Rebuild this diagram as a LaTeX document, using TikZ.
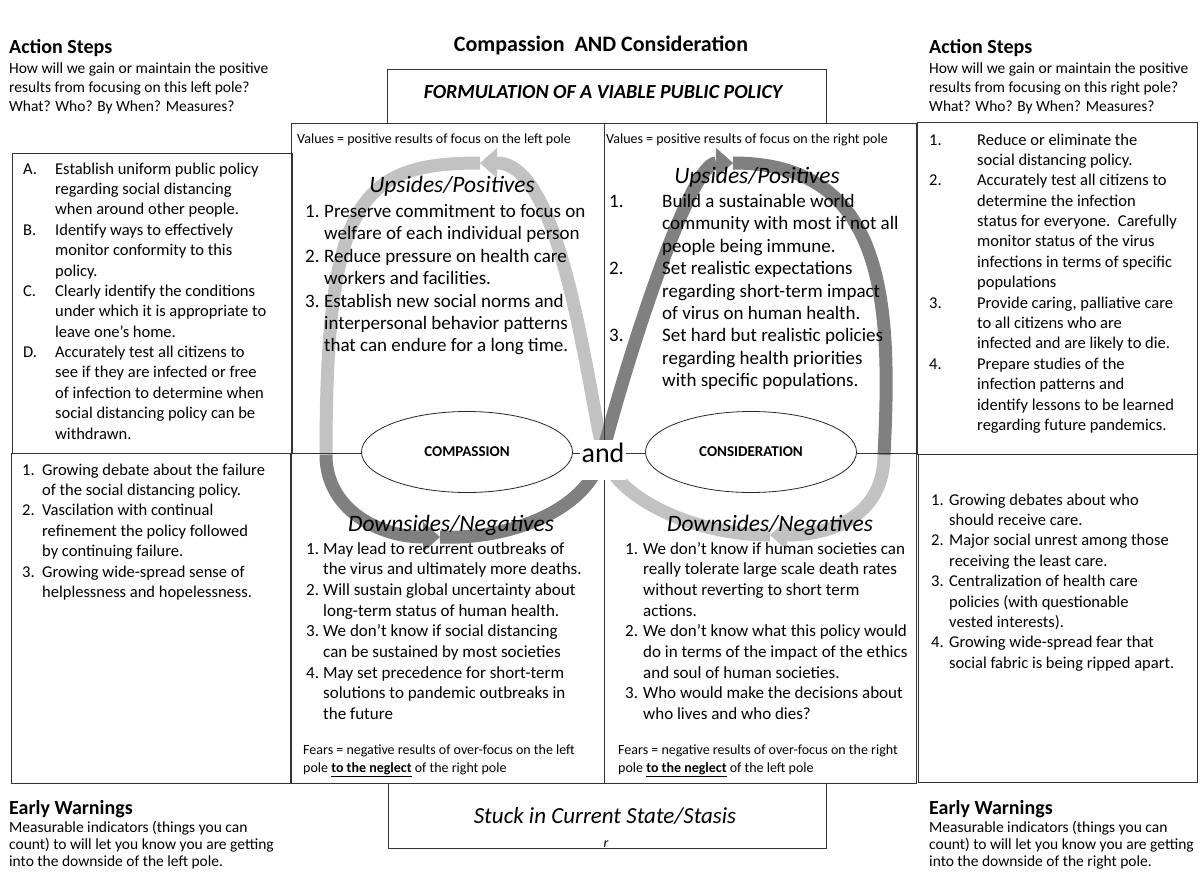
\documentclass[tikz,border=0pt]{standalone}
\usepackage{fontspec}
\setmainfont{Carlito}
\usetikzlibrary{shapes.geometric,arrows.meta}
\newcommand{\titlefont}{\fontsize{22}{26}\selectfont\bfseries}
\newcommand{\headfont}{\fontsize{20}{24}\selectfont\bfseries}
\newcommand{\notefont}{\fontsize{15.5}{19}\selectfont}
\newcommand{\warnfont}{\fontsize{15.5}{17}\selectfont}
\newcommand{\formfont}{\fontsize{20}{24}\selectfont\bfseries\itshape}
\newcommand{\valfont}{\fontsize{14}{16}\selectfont}
\newcommand{\sectfont}{\fontsize{23.5}{28}\selectfont\itshape}
\newcommand{\ctrfont}{\fontsize{19}{22.4}\selectfont}
\newcommand{\dnfont}{\fontsize{17}{20.7}\selectfont}
\newcommand{\sidefont}{\fontsize{16.5}{20.4}\selectfont}
\newcommand{\fearfont}{\fontsize{14}{18}\selectfont}
\newcommand{\polefont}{\fontsize{15}{18}\selectfont\bfseries}
\newcommand{\andfont}{\fontsize{28}{32}\selectfont}
\newcommand{\stasisfont}{\fontsize{23}{27}\selectfont\itshape}
\begin{document}
\begin{tikzpicture}[x=1pt,y=-1pt,
  cellbox/.style={draw=black!80, line width=0.9pt},
  txt/.style={inner sep=0pt, anchor=base west},
  ctxt/.style={inner sep=0pt, anchor=base},
  pole/.style={ellipse, draw=black!85, line width=0.8pt, fill=white,
    minimum width=211pt, minimum height=81pt, inner sep=0pt, font=\polefont},
  band/.style={line width=13pt},
  lightband/.style={band, draw=black!24},
  darkband/.style={band, draw=black!50},
  headtip/.style={-{Triangle[length=17pt 0 0, width=30pt 0 0, line width=0.4pt 0 0]}}
]
\useasboundingbox (0,0) rectangle (1203,875);

% Points of the loop
\coordinate (C) at (603,452);
\coordinate (TL) at (480,163);
\coordinate (L) at (326,455);
\coordinate (BL) at (440,537);
\coordinate (TR) at (733,163);
\coordinate (R) at (884,455);
\coordinate (BR) at (770,535);

% Draw the loop
\draw[lightband, headtip] (BR) .. controls (690,535) and (612,495) .. (C)
  .. controls (585,370) and (560,163) .. (TL);
\draw[lightband] (TL) .. controls (360,163) and (326,200) .. (L);
\draw[darkband, headtip] (L) .. controls (326,510) and (380,537) .. (BL);
\draw[darkband, headtip] (BL) .. controls (510,540) and (590,510) .. (C)
  .. controls (628,355) and (690,163) .. (TR);
\draw[darkband] (TR) .. controls (885,163) and (892,300) .. (R);
\draw[lightband, headtip] (R) .. controls (884,510) and (840,535) .. (BR);

% Draw the grid
\draw[cellbox] (387,69) rectangle (826,123);
\draw[cellbox] (291,123) rectangle (916,783);
\draw[cellbox] (604,123) -- (604,783);
\draw[cellbox] (291,453) -- (916,453);
\draw[cellbox] (12,153) rectangle (292,453);
\draw[cellbox] (11,453) rectangle (290,783);
\draw[cellbox] (917,122) rectangle (1197,454);
\draw[cellbox] (918,454) rectangle (1197,782);
\draw[cellbox] (388,783) rectangle (826,848);

% Headings
\node[ctxt, font=\titlefont] (title) at (601,52) {Compassion\ \ AND Consideration};
\node[txt, font=\headfont] (stepsL) at (9,53.5) {Action Steps};
\node[txt, font=\notefont] (stepsLnote) at (9,74) {\begin{tabular}[t]{@{}l@{}}How will we gain or maintain the positive\\ results from focusing on this left pole?\\ What? Who? By When? Measures?\end{tabular}};
\node[txt, font=\headfont] (stepsR) at (929,53.5) {Action Steps};
\node[txt, font=\notefont] (stepsRnote) at (929,74) {\begin{tabular}[t]{@{}l@{}}How will we gain or maintain the positive\\ results from focusing on this right pole?\\ What? Who? By When? Measures?\end{tabular}};
\node[txt, font=\headfont] (warnL) at (9,814.5) {Early Warnings};
\node[txt, font=\warnfont] (warnLnote) at (9,832.5) {\begin{tabular}[t]{@{}l@{}}Measurable indicators (things you can\\ count) to will let you know you are getting\\ into the downside of the left pole.\end{tabular}};
\node[txt, font=\headfont] (warnR) at (929,814.5) {Early Warnings};
\node[txt, font=\warnfont] (warnRnote) at (929,832.5) {\begin{tabular}[t]{@{}l@{}}Measurable indicators (things you can\\ count) to will let you know you are getting\\ into the downside of the right pole.\end{tabular}};

\node[ctxt, font=\formfont] (formula) at (603,99) {FORMULATION OF A VIABLE PUBLIC POLICY};
\node[ctxt, font=\stasisfont] (stasis) at (605,823) {Stuck in Current State/Stasis};
\node[ctxt, font=\fontsize{14}{16}\selectfont\itshape] (stray) at (606,847) {r};

% Values and fears
\node[txt, font=\valfont] (valL) at (297,143) {Values = positive results of focus on the left pole};
\node[txt, font=\valfont] (valR) at (606,143) {Values = positive results of focus on the right pole};
\node[txt, font=\fearfont] (fearL) at (303,754) {\begin{tabular}[t]{@{}l@{}}Fears = negative results of over-focus on the left\\ pole \underline{\textbf{to the neglect}} of the right pole\end{tabular}};
\node[txt, font=\fearfont] (fearR) at (618,754) {\begin{tabular}[t]{@{}l@{}}Fears = negative results of over-focus on the right\\ pole \underline{\textbf{to the neglect}} of the left pole\end{tabular}};

% Upsides
\node[ctxt, font=\sectfont] (upL) at (452,192.5) {Upsides/Positives};
\node[txt, font=\ctrfont] (upLlist) at (305,217.5) {\begin{tabular}[t]{@{}p{19pt}@{}l@{}}
1. & Preserve commitment to focus on\\
 & welfare of each individual person\\
2. & Reduce pressure on health care\\
 & workers and facilities.\\
3. & Establish new social norms and\\
 & interpersonal behavior patterns\\
 & that can endure for a long time.
\end{tabular}};
\node[ctxt, font=\sectfont] (upR) at (757,183.5) {Upsides/Positives};
\node[txt, font=\ctrfont] (upRlist) at (609,207.5) {\begin{tabular}[t]{@{}p{53pt}@{}l@{}}
1. & Build a sustainable world\\
 & community with most if not all\\
 & people being immune.\\
2. & Set realistic expectations\\
 & regarding short-term impact\\
 & of virus on human health.\\
3. & Set hard but realistic policies\\
 & regarding health priorities\\
 & with specific populations.
\end{tabular}};

% Downsides
\node[ctxt, font=\sectfont] (dnL) at (451,531) {Downsides/Negatives};
\node[txt, font=\dnfont] (dnLlist) at (306,554) {\begin{tabular}[t]{@{}p{17pt}@{}l@{}}
1. & May lead to recurrent outbreaks of\\
 & the virus and ultimately more deaths.\\
2. & Will sustain global uncertainty about\\
 & long-term status of human health.\\
3. & We don’t know if social distancing\\
 & can be sustained by most societies\\
4. & May set precedence for short-term\\
 & solutions to pandemic outbreaks in\\
 & the future
\end{tabular}};
\node[ctxt, font=\sectfont] (dnR) at (770,531) {Downsides/Negatives};
\node[txt, font=\dnfont] (dnRlist) at (625,554) {\begin{tabular}[t]{@{}p{18pt}@{}l@{}}
1. & We don’t know if human societies can\\
 & really tolerate large scale death rates\\
 & without reverting to short term\\
 & actions.\\
2. & We don’t know what this policy would\\
 & do in terms of the impact of the ethics\\
 & and soul of human societies.\\
3. & Who would make the decisions about\\
 & who lives and who dies?
\end{tabular}};

% Side lists
\node[txt, font=\sidefont] (stepsLlist) at (23,174) {\begin{tabular}[t]{@{}p{32pt}@{}l@{}}
A. & Establish uniform public policy\\
 & regarding social distancing\\
 & when around other people.\\
B. & Identify ways to effectively\\
 & monitor conformity to this\\
 & policy.\\
C. & Clearly identify the conditions\\
 & under which it is appropriate to\\
 & leave one’s home.\\
D. & Accurately test all citizens to\\
 & see if they are infected or free\\
 & of infection to determine when\\
 & social distancing policy can be\\
 & withdrawn.
\end{tabular}};
\node[txt, font=\sidefont] (stepsRlist) at (929,145) {\begin{tabular}[t]{@{}p{48pt}@{}l@{}}
1. & Reduce or eliminate the\\
 & social distancing policy.\\
2. & Accurately test all citizens to\\
 & determine the infection\\
 & status for everyone.\ \ Carefully\\
 & monitor status of the virus\\
 & infections in terms of specific\\
 & populations\\
3. & Provide caring, palliative care\\
 & to all citizens who are\\
 & infected and are likely to die.\\
4. & Prepare studies of the\\
 & infection patterns and\\
 & identify lessons to be learned\\
 & regarding future pandemics.
\end{tabular}};
\node[txt, font=\sidefont] (warnLlist) at (22,475) {\begin{tabular}[t]{@{}p{20pt}@{}l@{}}
1. & Growing debate about the failure\\
 & of the social distancing policy.\\
2. & Vascilation with continual\\
 & refinement the policy followed\\
 & by continuing failure.\\
3. & Growing wide-spread sense of\\
 & helplessness and hopelessness.
\end{tabular}};
\node[txt, font=\sidefont] (warnRlist) at (931,505) {\begin{tabular}[t]{@{}p{18pt}@{}l@{}}
1. & Growing debates about who\\
 & should receive care.\\
2. & Major social unrest among those\\
 & receiving the least care.\\
3. & Centralization of health care\\
 & policies (with questionable\\
 & vested interests).\\
4. & Growing wide-spread fear that\\
 & social fabric is being ripped apart.
\end{tabular}};

% Poles
\node[pole] (compassion) at (467,452) {COMPASSION};
\node[pole] (consideration) at (751,452) {CONSIDERATION};
\node[anchor=base, fill=white, inner xsep=2pt, inner ysep=0pt, text height=22pt, text depth=18pt, font=\andfont] (andlbl) at (603,462) {and};
\end{tikzpicture}
\end{document}
